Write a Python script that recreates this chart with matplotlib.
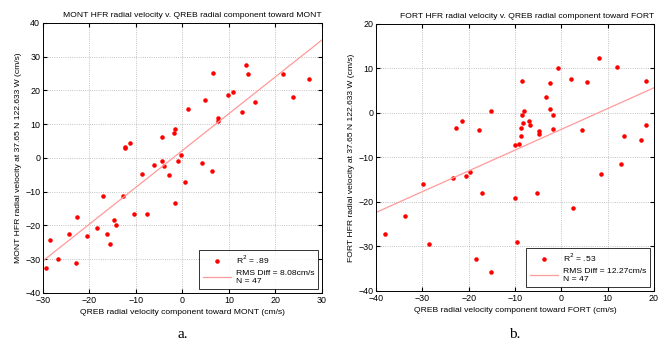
import numpy as np
import matplotlib
matplotlib.use('Agg')
import matplotlib.pyplot as plt

# panel a: QREB toward MONT (x) vs MONT HFR (y), cm/s
mont_x = [-12.3, -12.3, -11.2, -4.5, -1.8, -1.6, 1.1, 4.8, 6.5, 7.6, 7.6, 9.9, 10.9,
          12.8, 13.7, 14.2, 15.6, 21.6, 23.7, 27.3,
          -4.5, -6.1, -3.9, -0.9, -0.4, 4.3, 6.4, -2.8, 0.5, -8.7, -12.7, -17.0,
          -1.7, -10.4, -7.7, -14.7, -14.4, -18.3, -16.3, -24.4, -20.6, -22.6,
          -15.6, -28.6, -26.7, -22.9, -29.4]
mont_y = [2.8, 3.3, 4.3, 6.2, 7.4, 8.6, 14.6, 17.0, 25.1, 11.8, 10.9, 18.7, 19.4,
          13.7, 27.6, 24.7, 16.7, 24.9, 17.9, 23.5,
          -1.0, -2.2, -2.4, -0.8, 0.9, -1.5, -3.8, -5.2, -7.2, -4.7, -11.4, -11.4,
          -13.3, -16.7, -16.7, -18.3, -20.0, -20.7, -22.4, -22.4, -23.2, -17.6,
          -25.6, -24.3, -29.9, -31.1, -32.7]
mont_fit = [1.09, 2.2]   # slope, intercept

# panel b: QREB toward FORT (x) vs FORT HFR (y), cm/s
fort_x = [-22.8, -21.5, -17.7, -15.1, -10.0, -9.2, -8.5, -8.5, -8.3, -8.0, -8.6,
          -8.6, -6.9, -6.7, -4.9, -4.9, -3.4, -2.5, -2.4, -1.9, -1.9, -0.8, 2.0,
          4.4, 5.5, 8.1, 12.1, 13.5, 17.3, 18.3, 18.3,
          12.8, 8.5, -19.7, -20.5, -23.4, -29.9, -17.2, -5.2, -9.9, 2.5, -33.7,
          -38.0, -28.6, -9.5, -18.4, -15.1]
fort_y = [-3.3, -1.8, -3.8, 0.5, -7.2, -7.0, 7.2, -0.4, -2.2, 0.5, -3.5, -5.3,
          -1.8, -2.8, -4.1, -4.8, 3.6, 0.9, 6.8, -0.4, -3.6, 10.1, 7.7, -3.8,
          7.0, 12.3, 10.3, -5.3, -6.0, 7.2, -2.7,
          -11.4, -13.7, -13.3, -14.2, -14.7, -16.0, -18.1, -18.0, -19.2, -21.3,
          -23.2, -27.3, -29.5, -29.1, -32.9, -35.7]
fort_fit = [0.467, -3.7]

plt.rcParams['font.family'] = ['Liberation Sans', 'DejaVu Sans']

fig = plt.figure(figsize=(6.67, 3.41), dpi=100)
ax1 = fig.add_axes([0.0645, 0.141, 0.418, 0.792])
ax2 = fig.add_axes([0.5637, 0.147, 0.4168, 0.783])

panels = [
    (ax1, mont_x, mont_y, mont_fit, (-30, 30), (-40, 40), 10, 10,
     'MONT HFR radial velocity v. QREB radial component toward MONT',
     'QREB radial velocity component toward MONT (cm/s)',
     'MONT HFR radial velocity at 37.65 N 122.633 W (cm/s)',
     r'R$^2$ = .89', 'RMS Diff = 8.08cm/s\nN = 47', 'a.'),
    (ax2, fort_x, fort_y, fort_fit, (-40, 20), (-40, 20), 10, 10,
     'FORT HFR radial velocity v. QREB radial component toward FORT',
     'QREB radial velocity component toward FORT (cm/s)',
     'FORT HFR radial velocity at 37.65 N 122.633 W (cm/s)',
     r'R$^2$ = .53', 'RMS Diff = 12.27cm/s\nN = 47', 'b.'),
]

fs = 6.1
for ax, x, y, fit, xl, yl, xs, ys, title, xlab, ylab, lab1, lab2, cap in panels:
    ax.plot(x, y, '.', color='red', markersize=4.5, label=lab1)
    xx = np.array(xl)
    ax.plot(xx, fit[0] * xx + fit[1], '-', color='#ff9a9a', lw=0.9, label=lab2)
    ax.set_xlim(xl)
    ax.set_ylim(yl)
    ax.set_xticks(np.arange(xl[0], xl[1] + 1, xs))
    ax.set_yticks(np.arange(yl[0], yl[1] + 1, ys))
    ax.grid(True, linestyle=':', color='#b0b0b0', lw=0.6)
    ax.tick_params(direction='in', top=True, right=True, labelsize=fs + 0.3,
                   length=3, pad=2)
    for s in ax.spines.values():
        s.set_linewidth(0.7)
    ax.set_title(title, fontsize=fs, pad=4, loc='right')
    ax.set_xlabel(xlab, fontsize=fs, labelpad=3)
    ax.set_ylabel(ylab, fontsize=fs, labelpad=2)
    leg = ax.legend(loc='lower right', fontsize=fs, frameon=True, fancybox=False,
                    edgecolor='black', handlelength=3.3, borderpad=0.45,
                    labelspacing=0.5, borderaxespad=0.45, handletextpad=0.6)
    leg.get_frame().set_linewidth(0.7)
    pos = ax.get_position()
    fig.text(pos.x0 + pos.width / 2, 0.0, cap, family='Liberation Serif',
             fontsize=11, ha='center', va='bottom')

fig.savefig('out.png', dpi=100)
